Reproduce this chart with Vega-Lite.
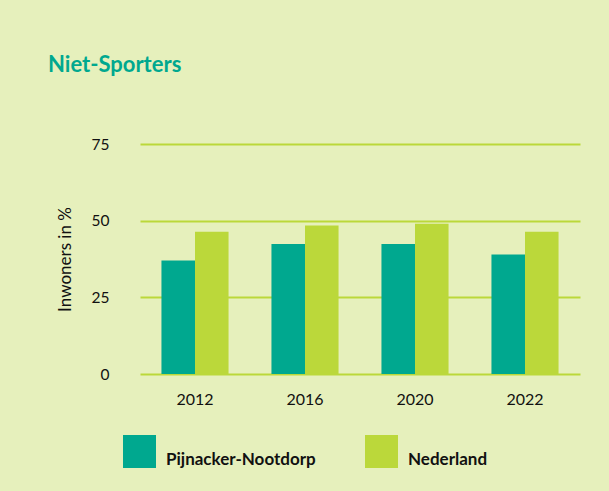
{
  "$schema": "https://vega.github.io/schema/vega-lite/v6.json",
  "width": 440,
  "height": 230,
  "autosize": "none",
  "padding": {"left": 140, "top": 144, "right": 29, "bottom": 117},
  "background": "#e6f0bc",
  "title": {
    "text": "Niet-Sporters",
    "anchor": "start",
    "frame": "group",
    "dx": -92,
    "offset": 43,
    "baseline": "alphabetic",
    "font": "Lato",
    "fontSize": 22,
    "fontWeight": "bold",
    "color": "#00a88f"
  },
  "data": {
    "values": [
      {"jaar": "2012", "gebied": "Pijnacker-Nootdorp", "pct": 37},
      {"jaar": "2012", "gebied": "Nederland", "pct": 46.4},
      {"jaar": "2016", "gebied": "Pijnacker-Nootdorp", "pct": 42.4},
      {"jaar": "2016", "gebied": "Nederland", "pct": 48.4},
      {"jaar": "2020", "gebied": "Pijnacker-Nootdorp", "pct": 42.4},
      {"jaar": "2020", "gebied": "Nederland", "pct": 49},
      {"jaar": "2022", "gebied": "Pijnacker-Nootdorp", "pct": 39},
      {"jaar": "2022", "gebied": "Nederland", "pct": 46.4}
    ]
  },
  "mark": {"type": "bar"},
  "encoding": {
    "x": {
      "field": "jaar",
      "type": "nominal",
      "title": null,
      "scale": {"paddingInner": 0.39, "paddingOuter": 0.195},
      "axis": {
        "labelAngle": 0,
        "ticks": false,
        "tickSize": 0,
        "domain": false,
        "grid": false,
        "labelPadding": 17,
        "labelFont": "Lato",
        "labelFontSize": 16,
        "labelColor": "#111111"
      }
    },
    "xOffset": {
      "field": "gebied",
      "type": "nominal",
      "sort": ["Pijnacker-Nootdorp", "Nederland"]
    },
    "y": {
      "field": "pct",
      "type": "quantitative",
      "title": "Inwoners in %",
      "scale": {"domain": [0, 75], "nice": false},
      "axis": {
        "values": [0, 25, 50, 75],
        "ticks": false,
        "tickSize": 0,
        "domain": false,
        "grid": true,
        "gridColor": "#bbd83a",
        "gridWidth": 2,
        "gridOpacity": 1,
        "labelPadding": 31,
        "labelFont": "Lato",
        "labelFontSize": 15.5,
        "labelColor": "#111111",
        "titleFont": "Lato",
        "titleFontSize": 17,
        "titleFontWeight": "normal",
        "titleColor": "#111111",
        "titlePadding": 17
      }
    },
    "color": {
      "field": "gebied",
      "type": "nominal",
      "sort": ["Pijnacker-Nootdorp", "Nederland"],
      "scale": {"domain": ["Pijnacker-Nootdorp", "Nederland"], "range": ["#00a88f", "#bbd83a"]},
      "legend": {
        "title": null,
        "orient": "none",
        "direction": "horizontal",
        "legendX": -17,
        "legendY": 291,
        "padding": 0,
        "symbolType": "square",
        "symbolSize": 1089,
        "symbolStrokeWidth": 0,
        "symbolOpacity": 1,
        "labelOffset": 10,
        "labelBaseline": "top",
        "labelFont": "Lato",
        "labelFontSize": 17,
        "labelFontWeight": "bold",
        "labelColor": "#111111",
        "labelLimit": 300,
        "columnPadding": 49
      }
    }
  },
  "config": {
    "view": {"stroke": null}
  }
}
